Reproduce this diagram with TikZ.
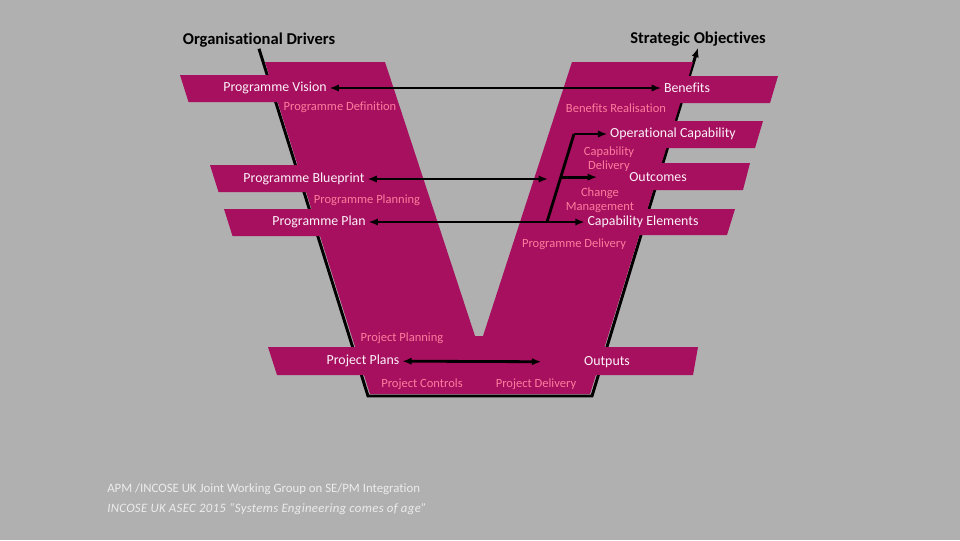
\documentclass[tikz,border=0pt]{standalone}
\usepackage{fontspec}
\setmainfont{Carlito}[Ligatures=NoCommon]
\usetikzlibrary{arrows.meta}
\usetikzlibrary{calc}

\definecolor{vmagenta}{RGB}{166,16,94}
\definecolor{vpink}{RGB}{255,124,158}
\definecolor{vgrey}{RGB}{176,176,176}
\definecolor{vwhite}{RGB}{252,242,250}
\definecolor{vfoot}{RGB}{236,236,236}

\tikzset{
  band/.style={fill=vmagenta},
  lbl/.style={text=vwhite, inner sep=2pt, font=\fontsize{10.4}{12}\selectfont},
  sublbl/.style={text=vpink, inner sep=1pt, align=center, font=\fontsize{9.4}{10.5}\selectfont},
  headlbl/.style={inner sep=1pt, font=\bfseries\fontsize{12.4}{14}\selectfont},
  footlbl/.style={text=vfoot, anchor=west, inner sep=0pt, font=\fontsize{9.6}{11}\selectfont},
  link/.style={line width=2.1pt},
}

\begin{document}
\begin{tikzpicture}[x=0.75pt, y=-0.75pt, >={Latex[length=7pt,width=5.5pt]}]
            \fill[vgrey] (0,0) rectangle (960,540);
            \useasboundingbox (0,0) rectangle (960,540);

            % Headings
            \node[headlbl] (drivers) at (259,40) {Organisational Drivers};
            \node[headlbl] (objectives) at (698,39) {Strategic Objectives};

            % Black edge under the V
            \coordinate (vbl) at (368,396);
            \coordinate (vbr) at (592,396);
            \draw[line width=2.2pt, ->] (drivers.south) -- (vbl) -- (vbr) -- (objectives.south);

            % The V
            \fill[band] (265,62) -- (385,62) -- (475,336) -- (483,336) -- (572,62)
                -- (693,62) -- (590,394) -- (370,394) -- cycle;

            % Left bands
            \fill[band] (180,75) -- (320,75) -- (320,102) -- (188.5,102) -- cycle;
            \fill[band] (210,165) -- (330,165) -- (330,192) -- (218.5,192) -- cycle;
            \fill[band] (224,209) -- (340,209) -- (340,236) -- (232.5,236) -- cycle;

            % Right bands
            \fill[band] (660,76) -- (778,76) -- (770,103) -- (660,103) -- cycle;
            \fill[band] (640,121) -- (763,121) -- (755,148) -- (640,148) -- cycle;
            \fill[band] (620,163) -- (750,163) -- (743,190) -- (620,190) -- cycle;
            \fill[band] (610,209) -- (735,209) -- (727,235) -- (610,235) -- cycle;

            % Bottom band
            \fill[band] (268,347) -- (698,347) -- (693,375) -- (277,375) -- cycle;

            % Programme level
            \node[lbl] (vision) at (275,88) {Programme Vision};
            \node[sublbl] (definition) at (340,107) {Programme Definition};
            \node[lbl] (benefits) at (687,88) {Benefits};
            \node[sublbl] (realisation) at (616,108) {Benefits Realisation};
            \node[lbl] (opcap) at (673,134) {Operational Capability};
            \node[sublbl] (capdelivery) at (609,159) {Capability\\Delivery};
            \node[lbl] (outcomes) at (658,177) {Outcomes};
            \node[sublbl] (change) at (600,200) {Change\\Management};
            \node[lbl] (elements) at (643,222) {Capability Elements};
            \node[sublbl] (progdelivery) at (574,244) {Programme Delivery};
            \node[lbl] (blueprint) at (304,179) {Programme Blueprint};
            \node[sublbl] (planning) at (367,200) {Programme Planning};
            \node[lbl] (plan) at (319,222) {Programme Plan};

            % Project level
            \node[sublbl] (projplanning) at (402,338) {Project Planning};
            \node[lbl] (projplans) at (363,361) {Project Plans};
            \node[lbl] (outputs) at (607,362) {Outputs};
            \node[sublbl] (controls) at (422,384) {Project Controls};
            \node[sublbl] (projdelivery) at (536,384) {Project Delivery};

            % Links
            \coordinate (blueend) at (548,179);
            \coordinate (fork) at (547,222);
            \coordinate (forktop) at (574,134);
            \coordinate (forkmid) at ($(fork)!0.51!(forktop)$);
            \draw[link, <->] (vision) -- (benefits);
            \draw[link, <->] (blueprint) -- (blueend);
            \draw[link, <->] (plan) -- (elements);
            \draw[link] (fork) -- (forktop);
            \draw[link, ->] (forktop) -- (opcap);
            \draw[link, ->, shorten >=22pt] (forkmid) -- (forkmid -| outcomes.west);
            \draw[link, <->, shorten >=30pt] (projplans) -- (outputs);

            % Footer
            \node[footlbl] (group) at (107,489) {APM /INCOSE UK Joint Working Group on SE/PM Integration};
            \node[footlbl, font=\itshape\fontsize{9.6}{11}\selectfont\addfontfeature{LetterSpace=2.5}] (asec) at (107,509) {INCOSE UK ASEC 2015 “Systems Engineering comes of age”};
        \end{tikzpicture}
\end{document}
